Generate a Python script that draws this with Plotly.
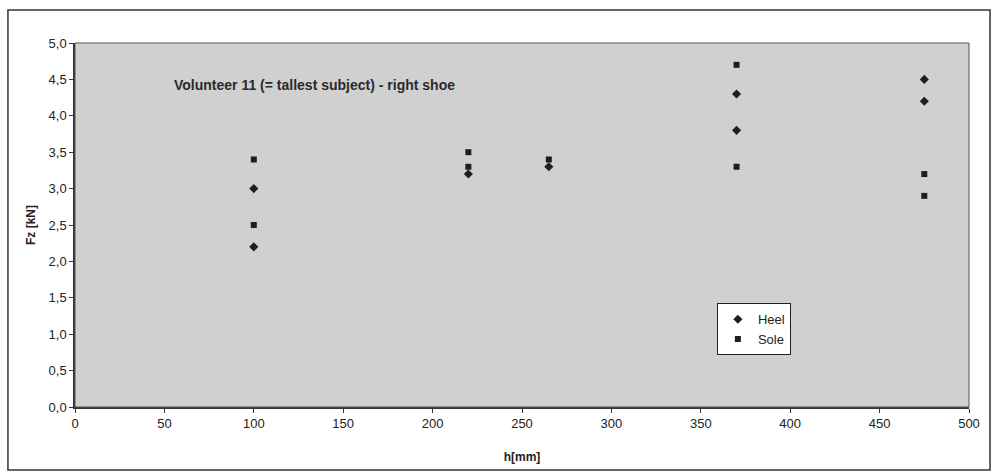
import plotly.graph_objects as go

# Heel and sole peak vertical force versus drop height
heel_h = [100, 100, 220, 265, 370, 370, 475, 475]
heel_fz = [3.0, 2.2, 3.2, 3.3, 4.3, 3.8, 4.5, 4.2]
sole_h = [100, 100, 220, 220, 265, 370, 370, 475, 475]
sole_fz = [3.4, 2.5, 3.5, 3.3, 3.4, 4.7, 3.3, 3.2, 2.9]

x_ticks = [0, 50, 100, 150, 200, 250, 300, 350, 400, 450, 500]
y_ticks = [0.0, 0.5, 1.0, 1.5, 2.0, 2.5, 3.0, 3.5, 4.0, 4.5, 5.0]

font_family = "Liberation Sans, Arial, sans-serif"

fig = go.Figure()
fig.add_trace(go.Scatter(
    x=heel_h, y=heel_fz, mode="markers", name="Heel",
    marker=dict(symbol="diamond", size=7, color="#1e1e1e"),
))
fig.add_trace(go.Scatter(
    x=sole_h, y=sole_fz, mode="markers", name="Sole",
    marker=dict(symbol="square", size=6, color="#1e1e1e"),
))

fig.update_layout(
    width=998, height=474,
    margin=dict(l=75, r=29, t=43, b=67),
    paper_bgcolor="white",
    plot_bgcolor="#d0d0d0",
    font=dict(family=font_family, size=13, color="#222"),
    separators=",.",
    showlegend=True,
    legend=dict(
        x=0.718, y=0.285, xanchor="left", yanchor="top",
        bgcolor="white", bordercolor="#222", borderwidth=1,
        font=dict(size=13), itemsizing="trace", itemwidth=30,
        tracegroupgap=0,
    ),
    xaxis=dict(
        range=[0, 500], tickvals=x_ticks, showgrid=False, zeroline=False,
        showline=True, linecolor="#333", linewidth=1.5,
        ticks="outside", ticklen=4, tickcolor="#333",
        title=dict(text="<b>h[mm]</b>", font=dict(size=12), standoff=22),
    ),
    yaxis=dict(
        range=[0, 5.0], tickvals=y_ticks, tickformat=".1f", showgrid=False,
        zeroline=False, showline=True, linecolor="#333", linewidth=1.5,
        ticks="outside", ticklen=4, tickcolor="#333",
        title=dict(text="<b>Fz [kN]</b>", font=dict(size=12), standoff=10),
    ),
    shapes=[
        # outer chart frame
        dict(type="rect", xref="paper", yref="paper",
             x0=-0.075, x1=1.0235, y0=-0.173, y1=1.0907,
             line=dict(color="#333", width=1.5), fillcolor="rgba(0,0,0,0)",
             layer="below"),
        # plot area border
        dict(type="rect", xref="paper", yref="paper",
             x0=0, x1=1, y0=0, y1=1,
             line=dict(color="#555", width=1), fillcolor="rgba(0,0,0,0)"),
    ],
    annotations=[
        dict(text="<b>Volunteer 11 (= tallest subject) - right shoe</b>",
             x=54, y=4.42, xref="x", yref="y", xanchor="left", yanchor="middle",
             showarrow=False, font=dict(size=14, color="#2a2a2a")),
    ],
)

fig.write_html("out.html")
